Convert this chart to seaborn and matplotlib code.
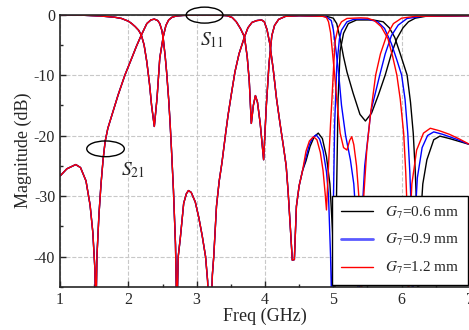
import numpy as np
import pandas as pd
import seaborn as sns
import matplotlib
matplotlib.use("Agg")
import matplotlib.pyplot as plt
from matplotlib.patches import Ellipse
from matplotlib.lines import Line2D
from matplotlib.ticker import MultipleLocator

# S11, shared by all three G7 values up to ~4.85 GHz
s11_f = [1.0, 1.3, 1.6, 1.8, 1.9, 2.0, 2.05, 2.1, 2.15, 2.19, 2.23, 2.27, 2.31, 2.34, 2.38,
         2.42, 2.46, 2.51, 2.55, 2.59, 2.64, 2.7, 2.8, 3.0, 3.3, 3.45, 3.52, 3.58, 3.64,
         3.70, 3.74, 3.77, 3.80, 3.83, 3.86, 3.89, 3.93, 3.98, 4.02, 4.06, 4.10, 4.14,
         4.2, 4.3, 4.5, 4.7, 4.85]
s11_db = [-0.05, -0.1, -0.25, -0.45, -0.65, -1.1, -1.5, -2.0, -2.6, -3.4, -5.0, -7.8, -11.5, -15, -18.5,
          -13.8, -7.2, -3.7, -1.8, -0.9, -0.45, -0.25, -0.15, -0.1, -0.1, -0.2, -0.5, -1.2, -2.3,
          -3.7, -7, -11, -18.0, -15, -13.4, -14.5, -18, -24, -15, -8, -3.5, -1.8,
          -0.8, -0.3, -0.2, -0.25, -0.3]

# S21, shared up to ~4.55 GHz
s21_f = [1.0, 1.1, 1.23, 1.3, 1.38, 1.44, 1.48, 1.51, 1.525, 1.54, 1.57, 1.60, 1.63, 1.66, 1.70,
         1.76, 1.85, 1.95, 2.05, 2.12, 2.19, 2.27, 2.33, 2.38, 2.43, 2.46, 2.49, 2.51, 2.54,
         2.56, 2.59, 2.61, 2.63, 2.66, 2.69, 2.71, 2.73, 2.76, 2.81, 2.85, 2.88, 2.92, 2.98,
         3.03, 3.08, 3.13, 3.16, 3.18, 3.21, 3.23, 3.25, 3.29, 3.33, 3.37, 3.42, 3.46, 3.51,
         3.56, 3.62, 3.70, 3.75, 3.81, 3.88, 3.95, 3.99, 4.03, 4.07, 4.12, 4.17, 4.22, 4.27,
         4.31, 4.34, 4.37, 4.40, 4.43, 4.46, 4.50, 4.55]
s21_db = [-26.7, -25.5, -24.8, -25.3, -27.5, -31.5, -36, -42, -50, -40, -33, -28, -24, -21, -18.8,
          -16.6, -13.3, -10, -7.2, -5.2, -3.4, -1.5, -0.9, -0.76, -1.0, -1.5, -2.6, -3.9, -7,
          -9.5, -14, -17.7, -22, -29, -38, -50, -40, -37, -31.2, -29.6, -29.1, -29.4, -31,
          -33.5, -36.5, -40, -44, -50, -50, -43, -40, -31.7, -27.5, -24.5, -20, -16.6, -13,
          -9.5, -6.5, -3.7, -2.2, -1.3, -1.0, -0.9, -1.2, -2.5, -4.8, -9, -14, -18, -21.8,
          -25, -29.5, -35, -40.6, -40.5, -31.7, -28.3, -25.8]

g7_values = ["0.6", "0.9", "1.2"]
g7_colors = ["black", "blue", "red"]

# tails after the curves split
s11_f_06 = [4.9, 5.0, 5.05, 5.1, 5.15, 5.2, 5.29, 5.39, 5.47, 5.56, 5.66, 5.76, 5.85, 5.93, 6.02, 6.1, 6.2, 6.35, 7.0]
s11_db_06 = [-0.3, -0.6, -1.5, -4, -7, -9.5, -13, -16.5, -17.6, -16.3, -13.3, -10, -6.5, -4, -2.2, -1.2, -0.6, -0.3, -0.2]
s11_f_09 = [4.9, 4.97, 5.0, 5.04, 5.08, 5.12, 5.18, 5.25, 5.3, 5.34, 5.37, 5.41, 5.46, 5.55, 5.68, 5.76, 5.85, 5.95, 6.08, 6.3, 7.0]
s11_db_09 = [-0.4, -1.0, -2.5, -6, -10, -15, -20, -24, -28, -35, -50, -35, -25, -16, -10, -6.5, -3.5, -1.75, -0.65, -0.3, -0.2]
s11_f_12 = [4.9, 4.93, 4.96, 4.99, 5.02, 5.05, 5.1, 5.15, 5.2, 5.24, 5.27, 5.3, 5.34, 5.38, 5.41, 5.44, 5.49, 5.54, 5.62, 5.69, 5.78, 5.88, 6.0, 6.2, 7.0]
s11_db_12 = [-0.5, -1.2, -3, -6.5, -10, -14, -19.6, -22, -22.4, -20.8, -20.2, -21.5, -25, -31, -50, -31, -22.4, -16.9, -10, -6.5, -3.5, -1.5, -0.6, -0.3, -0.2]

s21_f_06 = [4.60, 4.66, 4.72, 4.78, 4.84, 4.90, 4.95, 4.99, 5.02, 5.04, 5.07, 5.10, 5.15, 5.22, 5.34, 5.58, 5.73, 5.82, 5.9, 5.98, 6.08, 6.13, 6.17, 6.2, 6.22, 6.24, 6.27, 6.31, 6.37, 6.47, 6.56, 6.7, 6.85, 7.0]
s21_db_06 = [-24.2, -21.8, -20.2, -19.6, -20.5, -23.5, -28, -36, -50, -35, -14, -6, -3.1, -1.5, -0.9, -0.9, -1.2, -2.2, -3.8, -6.5, -10, -14.5, -19.6, -26, -32, -50, -35, -28, -24, -20.7, -20.1, -20.5, -21, -21.5]
s21_f_09 = [4.60, 4.65, 4.70, 4.75, 4.80, 4.85, 4.90, 4.93, 4.96, 4.98, 5.00, 5.02, 5.05, 5.09, 5.12, 5.2, 5.3, 5.5, 5.65, 5.75, 5.85, 5.93, 6.0, 6.05, 6.09, 6.12, 6.14, 6.16, 6.19, 6.23, 6.3, 6.38, 6.47, 6.6, 6.8, 7.0]
s21_db_09 = [-23.6, -21.5, -20.3, -19.9, -20.6, -22.5, -26, -30, -40, -50, -32, -18, -8.6, -4, -2.6, -1.2, -0.8, -0.75, -1.2, -2.3, -4.8, -7.5, -10, -14, -19.6, -26, -32, -50, -35, -27, -22, -20, -19.4, -19.8, -20.6, -21.5]
s21_f_12 = [4.60, 4.65, 4.71, 4.76, 4.81, 4.85, 4.88, 4.90, 4.93, 4.96, 4.98, 5.01, 5.03, 5.07, 5.12, 5.2, 5.4, 5.5, 5.6, 5.7, 5.8, 5.87, 5.93, 5.98, 6.03, 6.06, 6.08, 6.10, 6.12, 6.15, 6.22, 6.32, 6.42, 6.55, 6.7, 6.85, 7.0]
s21_db_12 = [-22.6, -20.9, -20.2, -20.7, -22.8, -25.8, -29.5, -32.3, -25, -18, -14, -7.5, -4.2, -2.2, -1.2, -0.65, -0.55, -0.6, -1.0, -2.0, -4, -7, -10, -14, -19.6, -26, -32, -50, -35, -28, -22.4, -19.6, -18.8, -19.2, -19.8, -20.6, -21.5]

tails = [(s11_f_06, s11_db_06, s21_f_06, s21_db_06),
         (s11_f_09, s11_db_09, s21_f_09, s21_db_09),
         (s11_f_12, s11_db_12, s21_f_12, s21_db_12)]

frames = []
for g, (a_f, a_db, b_f, b_db) in zip(g7_values, tails):
    frames.append(pd.DataFrame({"freq": s11_f + a_f, "db": s11_db + a_db, "g7": g, "curve": "S11"}))
    frames.append(pd.DataFrame({"freq": s21_f + b_f, "db": s21_db + b_db, "g7": g, "curve": "S21"}))
df = pd.concat(frames, ignore_index=True)

sns.set_style("ticks")
plt.rcParams['font.family'] = ['Liberation Serif', 'DejaVu Serif']
plt.rcParams['mathtext.fontset'] = 'stix'
plt.rcParams['axes.unicode_minus'] = False

fig = plt.figure(figsize=(4.69, 3.30), dpi=100)
ax = fig.add_axes([0.128, 0.131, 0.874, 0.825])

for g, col in zip(g7_values, g7_colors):
    sub = df[df["g7"] == g]
    sns.lineplot(data=sub, x="freq", y="db", units="curve", estimator=None, sort=False,
                 color=col, lw=1.0, ax=ax, legend=False)

ax.set_xlim(1, 7)
ax.set_ylim(-45, 0)
ax.xaxis.set_major_locator(MultipleLocator(1))
ax.xaxis.set_minor_locator(MultipleLocator(0.5))
ax.yaxis.set_major_locator(MultipleLocator(10))
ax.yaxis.set_minor_locator(MultipleLocator(5))
ax.tick_params(which="both", direction="in", labelsize=11.5, width=1)
ax.tick_params(which="major", length=4)
ax.tick_params(which="minor", length=2.5)
ax.grid(True, which="major", ls="--", color="#c8c8c8", lw=0.8)
for s in ax.spines.values():
    s.set_linewidth(1.2)

ax.set_xlabel("Freq (GHz)", fontsize=13, labelpad=0)
ax.set_ylabel("Magnitude (dB)", fontsize=13, labelpad=1)

# ellipses and labels for S11 / S21
ax.add_patch(Ellipse((3.116, -0.1), 0.54, 2.64, fill=False, ec="black", lw=1, clip_on=False, zorder=5))
ax.add_patch(Ellipse((1.666, -22.2), 0.55, 2.6, fill=False, ec="black", lw=1, zorder=5))
ax.text(3.23, -4.2, "$S_{11}$", fontsize=14, ha="center", va="center")
ax.text(2.07, -25.8, "$S_{21}$", fontsize=14, ha="center", va="center")

handles = [Line2D([], [], color="black", lw=1),
           Line2D([], [], color="#5b5bff", lw=2),
           Line2D([], [], color="red", lw=1)]
labels = ["$G_7$=%s mm" % g for g in g7_values]
leg = ax.legend(handles, labels, loc="lower right", bbox_to_anchor=(0.996, 0.006),
                borderaxespad=0, fancybox=False, framealpha=1, edgecolor="black",
                fontsize=11, handlelength=2.1, labelspacing=0.75, borderpad=0.6)
leg.get_frame().set_linewidth(1)

fig.savefig("out.png", dpi=100)
